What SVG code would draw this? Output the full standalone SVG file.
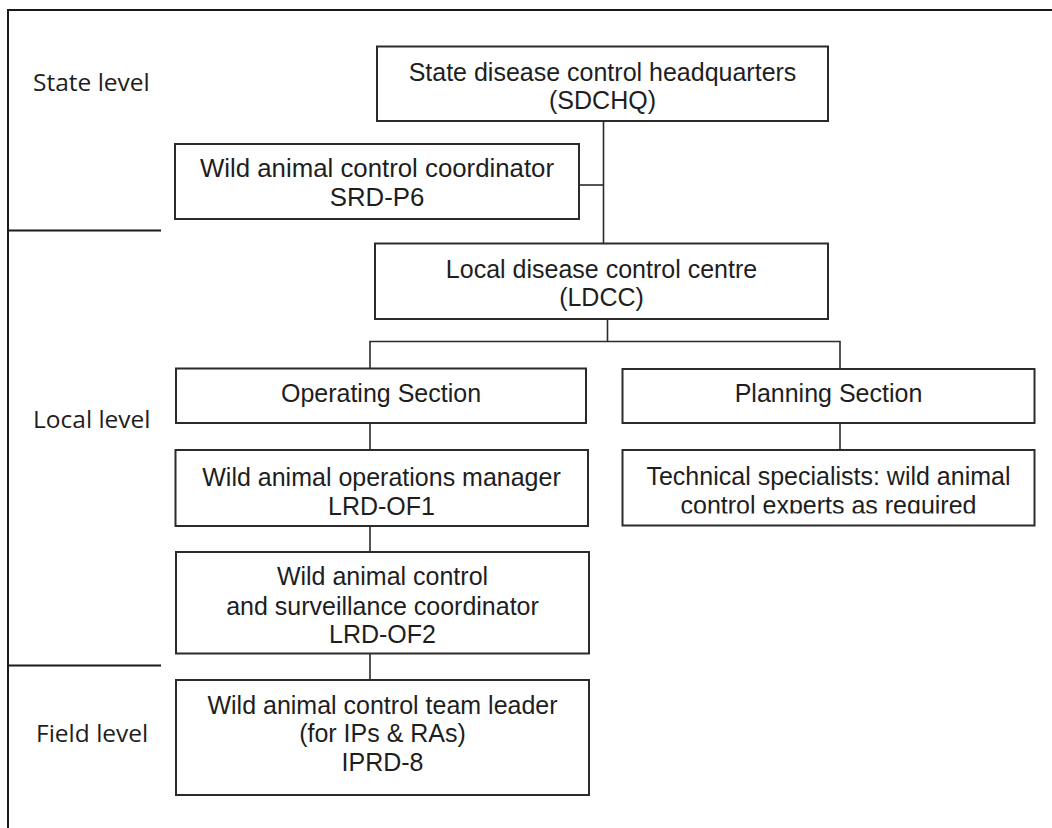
<svg xmlns="http://www.w3.org/2000/svg" width="1052" height="828" viewBox="0 0 1052 828">
<style>
.box{fill:#fff;stroke:#2b2b2b;stroke-width:2}
.t{font-family:"Liberation Sans",Arial,sans-serif;font-size:25px;fill:#1e1e1e;text-anchor:middle}
.big{font-size:25.8px}
.lvl{font-family:"Open Sans","Noto Sans",sans-serif;font-size:24.5px;fill:#1e1e1e}
.frame{stroke:#1a1a1a;stroke-width:2;fill:none}
.con{stroke:#2b2b2b;stroke-width:1.6;fill:none}
</style>
<defs>
<clipPath id="clipTech"><rect x="622" y="450" width="412" height="63.5"/></clipPath>
</defs>
<rect width="1052" height="828" fill="#fff"/>
<g id="frame">
<path class="frame" d="M8,828 V10 H1052"/>
<path class="frame" d="M8,230.5 H161"/>
<path class="frame" d="M8,665.5 H161"/>
<text class="lvl" x="33" y="91">State level</text>
<text class="lvl" x="33" y="428">Local level</text>
<text class="lvl" x="36" y="742">Field level</text>
</g>
<g id="connectors">
<path class="con" d="M603.5,121 V243.5"/>
<path class="con" d="M579,185 H603.5"/>
<path class="con" d="M607.5,319 V341.5 M370,368.5 V341.5 H840 V369"/>
<path class="con" d="M370,423 V450"/>
<path class="con" d="M840,423 V450"/>
<path class="con" d="M370,526 V552"/>
<path class="con" d="M370,653.5 V680"/>
</g>
<g id="sdchq">
<rect class="box" x="377" y="46.5" width="451" height="74.5"/>
<text class="t" x="602.5" y="80.5">State disease control headquarters</text>
<text class="t" x="602.5" y="109">(SDCHQ)</text>
</g>
<g id="coordinator">
<rect class="box" x="175" y="144" width="404" height="75"/>
<text class="t big" x="377" y="176.5">Wild animal control coordinator</text>
<text class="t big" x="377" y="206">SRD-P6</text>
</g>
<g id="ldcc">
<rect class="box" x="375" y="243.5" width="453" height="75.5"/>
<text class="t" x="601.5" y="278">Local disease control centre</text>
<text class="t" x="601.5" y="306">(LDCC)</text>
</g>
<g id="operating">
<rect class="box" x="176" y="368.5" width="410" height="54.5"/>
<text class="t" x="381" y="401.5">Operating Section</text>
</g>
<g id="planning">
<rect class="box" x="622.5" y="369" width="412" height="54"/>
<text class="t" x="828.5" y="401.5">Planning Section</text>
</g>
<g id="manager">
<rect class="box" x="175.5" y="450" width="412.5" height="76"/>
<text class="t" x="381.5" y="486">Wild animal operations manager</text>
<text class="t" x="381.5" y="515">LRD-OF1</text>
</g>
<g id="tech">
<rect class="box" x="622.5" y="450" width="412" height="75.5"/>
<g clip-path="url(#clipTech)">
<text class="t" x="828.5" y="484.5">Technical specialists: wild animal</text>
<text class="t" x="828.5" y="514">control experts as required</text>
</g>
</g>
<g id="surveillance">
<rect class="box" x="176" y="552" width="413" height="101.5"/>
<text class="t" x="382.5" y="585">Wild animal control</text>
<text class="t" x="382.5" y="614.5">and surveillance coordinator</text>
<text class="t" x="382.5" y="643">LRD-OF2</text>
</g>
<g id="teamleader">
<rect class="box" x="176" y="680" width="413" height="115"/>
<text class="t" x="382.5" y="713.5">Wild animal control team leader</text>
<text class="t" x="382.5" y="742">(for IPs &amp; RAs)</text>
<text class="t" x="382.5" y="770.5">IPRD-8</text>
</g>
</svg>
